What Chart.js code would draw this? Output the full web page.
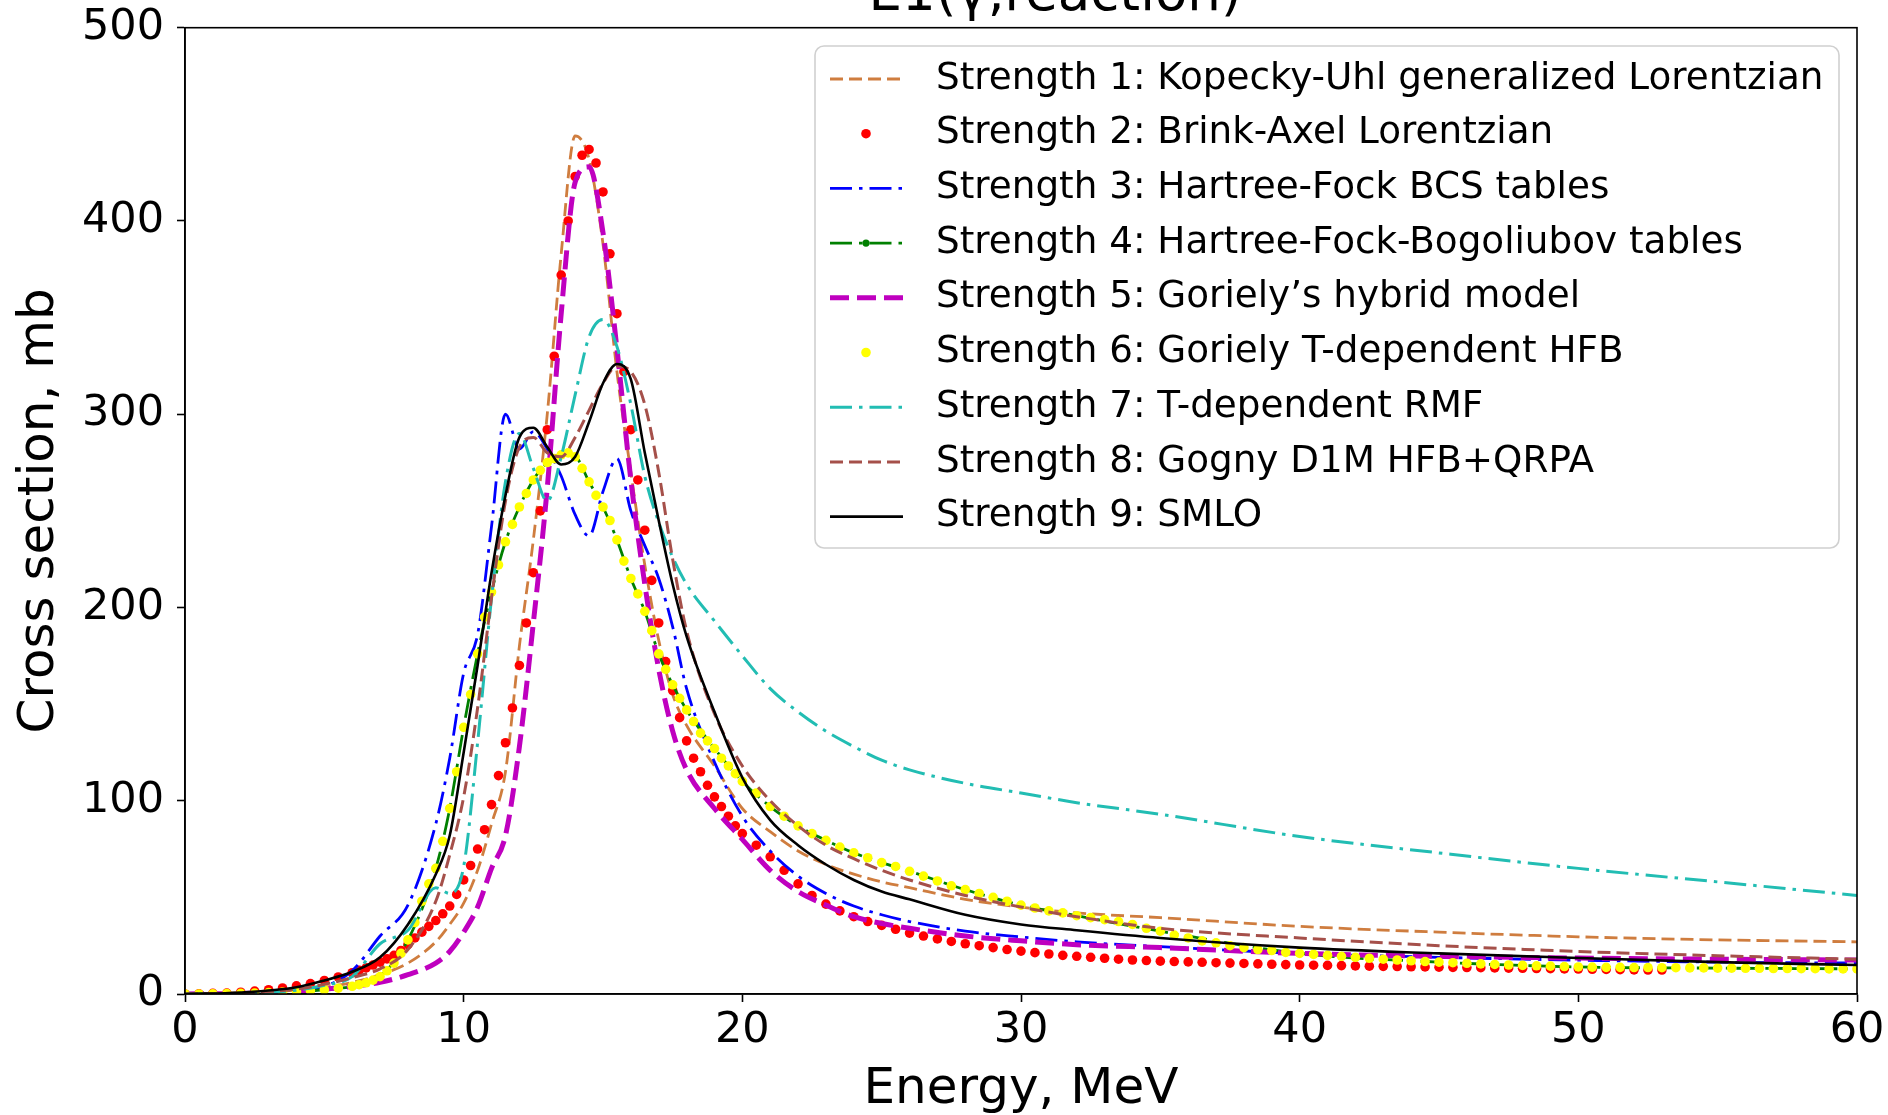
<!DOCTYPE html>
<html>
<head>
<meta charset="utf-8">
<title>E1(γ,reaction)</title>
<script src="https://cdn.jsdelivr.net/npm/chart.js@4.4.1/dist/chart.umd.min.js"></script>
<style>
  html, body { margin: 0; padding: 0; background: #fff; }
  #chart { display: block; }
</style>
</head>
<body>
<canvas id="chart" width="1888" height="1115"></canvas>
<script>
// energy grid (MeV) for the line curves
const energy = [0, 2, 4, 5, 6, 7, 8, 9,
  9.5, 10, 10.5, 11, 11.5, 12, 12.5, 13, 13.5, 14, 14.5, 15, 15.5, 16, 16.5, 17, 17.5, 18,
  19, 20, 21, 22, 23, 24, 25, 26,
  28, 30, 32, 35, 40, 45, 50, 55, 60];

// energy points of the two dotted strengths
const dotEnergy = [0, 0.5, 1, 1.5, 2, 2.5, 3, 3.5, 4, 4.5, 5, 5.5,
  6, 6.25, 6.5, 6.75, 7, 7.25, 7.5, 7.75, 8, 8.25, 8.5, 8.75, 9, 9.25, 9.5, 9.75,
  10, 10.25, 10.5, 10.75, 11, 11.25, 11.5, 11.75, 12, 12.25, 12.5, 12.75, 13, 13.25, 13.5, 13.75,
  14, 14.25, 14.5, 14.75, 15, 15.25, 15.5, 15.75, 16, 16.25, 16.5, 16.75, 17, 17.25, 17.5, 17.75,
  18, 18.25, 18.5, 18.75, 19, 19.25, 19.5, 19.75, 20,
  20.5, 21, 21.5, 22, 22.5, 23, 23.5, 24, 24.5, 25, 25.5, 26, 26.5, 27, 27.5, 28, 28.5, 29, 29.5, 30,
  30.5, 31, 31.5, 32, 32.5, 33, 33.5, 34, 34.5, 35, 35.5, 36, 36.5, 37, 37.5, 38, 38.5, 39, 39.5, 40,
  40.5, 41, 41.5, 42, 42.5, 43, 43.5, 44, 44.5, 45, 45.5, 46, 46.5, 47, 47.5, 48, 48.5, 49, 49.5, 50,
  50.5, 51, 51.5, 52, 52.5, 53, 53.5, 54, 54.5, 55, 55.5, 56, 56.5, 57, 57.5, 58, 58.5, 59, 59.5, 60];

// cross sections, mb
const kopeckyUhl = [0, 0.5, 2, 3.5, 6, 10, 16, 27,
  36, 47, 64, 88, 115, 180, 235, 300, 383, 444, 432, 388, 322, 270, 222, 183, 155, 139,
  118, 96, 84, 74, 67, 62, 58, 55,
  49, 45, 42, 39.5, 35, 32, 29.6, 28, 27];

const brinkAxel = [0, 0.1, 0.3, 0.5, 0.9, 1.5, 2.2, 3.1, 4.2, 5.4, 7, 8.8,
  11, 12.2, 13.5, 15, 16.5, 18.2, 20, 22.5, 25.5, 29, 32, 35, 38, 41.5, 45.5, 51.5,
  59, 66.5, 75, 85, 98, 113, 130, 148, 170, 192, 218, 250, 292, 330, 372, 400,
  423, 434, 437, 430, 415, 383, 352, 322, 292, 266, 240, 214, 192, 172, 157, 143,
  131, 122, 115, 108, 102, 97, 92, 87, 83,
  77, 71, 64, 57, 51, 46.5, 43, 40, 37.5, 35.5, 33.5, 31.5, 30, 28.5, 27.2, 26, 25, 24, 23, 22.2,
  21.4, 20.7, 20, 19.5, 19, 18.5, 18, 17.6, 17.3, 17, 16.8, 16.6, 16.4, 16.2, 16, 15.8, 15.6, 15.4, 15.2, 15,
  14.9, 14.8, 14.7, 14.5, 14.4, 14.3, 14.2, 14.1, 14, 13.9, 13.8, 13.7, 13.6, 13.5, 13.4, 13.3, 13.2, 13.1, 13, 12.9,
  12.8, 12.7, 12.6, 12.5, 12.4, 12.4, null, null, null, null, null, null, null, null, null, null, null, null, null, null];

const hfBcs = [0, 0.3, 2, 4, 12, 30, 46, 88,
  122, 166, 186, 242, 300, 282, 291, 282, 268, 248, 237, 260, 277, 250, 232, 215, 190, 158,
  120, 92, 74, 61, 52, 45.5, 41, 37.5,
  32.5, 29.5, 27, 24.5, 21, 19, 17.5, 16.5, 16];

const hfbTables = [0, 0.3, 1.3, 2.2, 4, 9, 28, 65,
  96, 138, 176, 208, 234, 252, 266, 275, 279, 278, 265, 252, 235, 215, 198, 176, 160, 147,
  127, 110, 97, 87, 79.5, 73, 68, 63.5,
  54, 46, 40.5, 32.5, 21, 16.5, 14, 13.4, 13];

const gorielyHybrid = [0, 0.3, 1.5, 2.5, 4, 6, 10, 16,
  22, 32, 45, 65, 82, 128, 192, 262, 352, 420, 428, 394, 334, 266, 212, 168, 136, 116,
  96, 80, 64, 53, 46, 40, 36.5, 34,
  30, 27.5, 25.5, 24, 21, 19.5, 18.6, 18, 17.6];

const gorielyTHfb = [0, 0, 0.1, 0.2, 0.3, 0.5, 0.7, 1, 1.3, 1.7, 2.2, 3,
  4, 4.8, 5.8, 7.2, 9, 12, 16, 21, 28, 37, 48, 57, 65, 79, 96, 115,
  138, 155, 176, 195, 208, 222, 234, 243, 252, 259, 266, 271, 275, 277, 279, 280,
  278, 272, 265, 258, 252, 245, 235, 224, 215, 207, 198, 188, 176, 168, 160, 153,
  147, 141, 135, 131, 127, 122, 118, 114, 110,
  104, 97, 92, 87, 83, 79.5, 76, 73, 70.5, 68, 66, 63.5, 61, 58.5, 56, 54, 52, 50, 48, 46,
  44.5, 43, 42, 40.5, 39.5, 38.5, 37.5, 36, 34, 32.5, 30.5, 29, 27.5, 26.5, 25, 24, 23, 22.5, 21.5, 21,
  20.5, 20, 19.5, 19, 18.5, 18, 17.6, 17.2, 16.8, 16.5, 16.2, 15.9, 15.6, 15.3, 15, 14.8, 14.6, 14.4, 14.2, 14,
  13.9, 13.8, 13.8, 13.7, 13.7, 13.6, 13.6, 13.5, 13.5, 13.4, 13.4, 13.3, 13.3, 13.2, 13.2, 13.1, 13.1, 13, 13, 13];

const tRmf = [0, 0.3, 2, 4.5, 9, 26, 33, 55,
  52, 66, 130, 205, 265, 290, 272, 255, 278, 310, 340, 349, 335, 305, 268, 244, 226, 212,
  193, 175, 158, 146, 136, 128, 121, 116,
  109, 104, 99, 93, 81.5, 73, 65, 58, 51];

const gognyD1m = [0, 0.5, 2.5, 5, 8.5, 13, 23, 48,
  72, 102, 148, 205, 255, 283, 288, 280, 278, 288, 302, 316, 325, 322, 305, 270, 225, 188,
  145, 118, 100, 87, 77, 70, 64, 59,
  51, 45, 40, 34, 29, 25, 22, 19.8, 18];

const smlo = [0, 0.8, 3.5, 7, 11.5, 19, 36, 62,
  82, 125, 170, 218, 258, 288, 293, 283, 274, 278, 296, 316, 326, 318, 280, 245, 212, 185,
  146, 112, 90, 77, 67, 59, 53, 49,
  41, 36, 33, 29, 24, 21, 18.6, 16.5, 15];

const seriesLabels = [
  "Strength 1: Kopecky-Uhl generalized Lorentzian",
  "Strength 2: Brink-Axel Lorentzian",
  "Strength 3: Hartree-Fock BCS tables",
  "Strength 4: Hartree-Fock-Bogoliubov tables",
  "Strength 5: Goriely\u2019s hybrid model",
  "Strength 6: Goriely T-dependent HFB",
  "Strength 7: T-dependent RMF",
  "Strength 8: Gogny D1M HFB+QRPA",
  "Strength 9: SMLO"
];

const xTicks = [0, 10, 20, 30, 40, 50, 60];
const yTicks = [0, 100, 200, 300, 400, 500];
const titleText = "E1(\u03b3,reaction)";
const FONT = "'DejaVu Sans', sans-serif";

function toPoints(xs, ys) {
  return xs.map((x, i) => ({ x: x, y: ys[i] }));
}

function lineSet(label, ys, color, width, dash, order) {
  return {
    label, data: toPoints(energy, ys), showLine: true,
    borderColor: color, borderWidth: width, borderDash: dash,
    pointRadius: 0, cubicInterpolationMode: "monotone", order
  };
}

function dotSet(label, ys, color, order) {
  return {
    label, data: toPoints(dotEnergy, ys), showLine: false,
    pointRadius: 4.8, pointBorderWidth: 0, pointBackgroundColor: color,
    borderColor: color, order, isDots: true
  };
}

const datasets = [
  lineSet(seriesLabels[0], kopeckyUhl, "#cf7d3f", 2.8, [13, 6], 9),
  dotSet(seriesLabels[1], brinkAxel, "#ff0000", 8),
  lineSet(seriesLabels[2], hfBcs, "#0000ff", 2.8, [22, 7, 3.5, 7], 7),
  Object.assign(lineSet(seriesLabels[3], hfbTables, "#008000", 2.8, [22, 7, 3.5, 7], 6), { withMarker: true }),
  lineSet(seriesLabels[4], gorielyHybrid, "#bf00bf", 5, [19, 8], 5),
  dotSet(seriesLabels[5], gorielyTHfb, "#ffff00", 4),
  lineSet(seriesLabels[6], tRmf, "#22bdb3", 3, [22, 7, 3.5, 7], 3),
  lineSet(seriesLabels[7], gognyD1m, "#a5504a", 3, [13, 6], 2),
  lineSet(seriesLabels[8], smlo, "#000000", 2.6, [], 1)
];

// top and right spines, title, boxed legend
const decorations = {
  id: "decorations",
  afterDatasetsDraw(chart) {
    const { ctx, chartArea: a } = chart;
    ctx.save();
    ctx.strokeStyle = "#000";
    ctx.lineWidth = 1.6;
    ctx.strokeRect(a.left, a.top, a.right - a.left, a.bottom - a.top);

    // title, partly above the canvas like in the original
    ctx.fillStyle = "#000";
    ctx.font = "53px " + FONT;
    ctx.textAlign = "center";
    ctx.textBaseline = "alphabetic";
    ctx.fillText(titleText, 1055, 10);

    // legend box
    const box = { x: 815, y: 46, w: 1024, h: 502, r: 9 };
    ctx.beginPath();
    ctx.roundRect(box.x, box.y, box.w, box.h, box.r);
    ctx.fillStyle = "rgba(255,255,255,0.8)";
    ctx.fill();
    ctx.strokeStyle = "#d0d0d0";
    ctx.lineWidth = 1.6;
    ctx.stroke();

    ctx.font = "37.3px " + FONT;
    ctx.textAlign = "left";
    ctx.textBaseline = "middle";
    chart.data.datasets.forEach((ds, i) => {
      const y = 79 + i * 54.7;
      if (ds.isDots) {
        ctx.beginPath();
        ctx.fillStyle = ds.pointBackgroundColor;
        ctx.arc(866, y, 4.8, 0, Math.PI * 2);
        ctx.fill();
      } else {
        ctx.beginPath();
        ctx.strokeStyle = ds.borderColor;
        ctx.lineWidth = ds.borderWidth;
        ctx.setLineDash(ds.borderDash);
        ctx.moveTo(830, y);
        ctx.lineTo(903, y);
        ctx.stroke();
        ctx.setLineDash([]);
        if (ds.withMarker) {
          ctx.beginPath();
          ctx.fillStyle = ds.borderColor;
          ctx.arc(866, y, 3.6, 0, Math.PI * 2);
          ctx.fill();
        }
      }
      ctx.fillStyle = "#000";
      ctx.fillText(ds.label, 936, y);
    });
    ctx.restore();
  }
};

new Chart(document.getElementById("chart"), {
  type: "scatter",
  data: { datasets },
  options: {
    responsive: false,
    animation: false,
    devicePixelRatio: 1,
    layout: { padding: { top: 27.7, right: 31, bottom: 0, left: 0 } },
    plugins: { legend: { display: false }, tooltip: { enabled: false }, title: { display: false } },
    scales: {
      x: {
        type: "linear", min: 0, max: 60,
        afterFit(scale) {
          scale.height = 121;
          scale.paddingLeft = 0;
          scale.paddingRight = 0;
        },
        afterBuildTicks(scale) { scale.ticks = xTicks.map(v => ({ value: v })); },
        grid: { drawOnChartArea: false, tickLength: 8, tickWidth: 1.6, tickColor: "#000" },
        border: { color: "#000", width: 1.6 },
        ticks: { color: "#000", padding: 7, maxRotation: 0, font: { family: FONT, size: 43, lineHeight: 1 } },
        title: { display: true, text: "Energy, MeV", color: "#000",
          font: { family: FONT, size: 50, lineHeight: 1 }, padding: { top: 0, bottom: 0 } }
      },
      y: {
        type: "linear", min: 0, max: 500,
        afterFit(scale) {
          scale.width = 185;
          scale.paddingTop = 0;
          scale.paddingBottom = 0;
        },
        afterBuildTicks(scale) { scale.ticks = yTicks.map(v => ({ value: v })); },
        grid: { drawOnChartArea: false, tickLength: 8, tickWidth: 1.6, tickColor: "#000" },
        border: { color: "#000", width: 1.6 },
        ticks: { color: "#000", padding: 13, font: { family: FONT, size: 43, lineHeight: 1 } },
        title: { display: true, text: "Cross section, mb", color: "#000",
          font: { family: FONT, size: 50, lineHeight: 1 }, padding: { top: 15, bottom: 0 } }
      }
    }
  },
  plugins: [decorations]
});
</script>
</body>
</html>
